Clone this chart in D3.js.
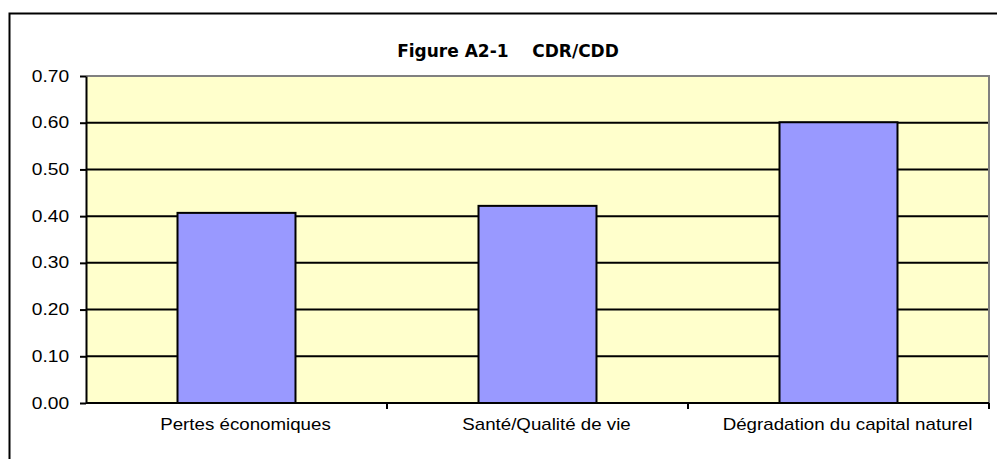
<!DOCTYPE html>
<html>
<head>
<meta charset="utf-8">
<script src="https://cdn.jsdelivr.net/npm/d3@7"></script>
<style>
  body { margin: 0; background: #fff; }
  svg { display: block; }
</style>
</head>
<body>
<div id="chart"></div>
<script>
// chart data
const categories = ["Pertes économiques", "Santé/Qualité de vie", "Dégradation du capital naturel"];
const values = [0.407, 0.422, 0.601];
const yTicks = [0, 0.1, 0.2, 0.3, 0.4, 0.5, 0.6, 0.7];
const title = "Figure A2-1    CDR/CDD";

const fullWidth = 997;
const fullHeight = 459;
const plotLeft = 86, plotRight = 989, plotTop = 76, plotBottom = 403;
const pad = 0.608;

const svg = d3.select("#chart")
    .append("svg")
    .attr("width", fullWidth)
    .attr("height", fullHeight);

// outer frame (right and bottom run off the page)
svg.append("rect")
    .attr("x", 9.5).attr("y", 13.5)
    .attr("width", 1100).attr("height", 600)
    .attr("fill", "none")
    .attr("stroke", "#000")
    .attr("stroke-width", 2);

const xScale = d3.scaleBand()
    .domain(categories)
    .range([plotLeft, plotRight])
    .paddingInner(pad)
    .paddingOuter(pad / 2);

const yScale = d3.scaleLinear()
    .domain([0, 0.7])
    .range([plotBottom, plotTop]);

// plot background
svg.append("rect")
    .attr("x", plotLeft).attr("y", plotTop)
    .attr("width", plotRight - plotLeft).attr("height", plotBottom - plotTop)
    .attr("fill", "#FFFFCC");

// gridlines
svg.append("g")
    .selectAll("line")
    .data(yTicks.filter(d => d > 0 && d < 0.7))
    .enter()
    .append("line")
    .attr("x1", plotLeft).attr("x2", plotRight)
    .attr("y1", d => yScale(d)).attr("y2", d => yScale(d))
    .attr("stroke", "#000")
    .attr("stroke-width", 2);

// top and right border
svg.append("path")
    .attr("d", `M${plotLeft},${plotTop}H${plotRight}V${plotBottom}`)
    .attr("fill", "none")
    .attr("stroke", "#808080")
    .attr("stroke-width", 2);

// bars
svg.selectAll(".bar")
    .data(values)
    .enter()
    .append("rect")
    .attr("class", "bar")
    .attr("x", (d, i) => xScale(categories[i]))
    .attr("y", d => yScale(d))
    .attr("width", xScale.bandwidth())
    .attr("height", d => yScale(0) - yScale(d))
    .attr("fill", "#9999FF")
    .attr("stroke", "#000")
    .attr("stroke-width", 2);

// y axis
const yAxis = svg.append("g")
    .attr("transform", "translate(" + plotLeft + ",0)")
    .call(d3.axisLeft(yScale)
        .tickValues(yTicks)
        .tickFormat(d3.format(".2f"))
        .tickSize(6)
        .tickSizeOuter(0)
        .tickPadding(8));
yAxis.select(".domain").attr("stroke", "#000").attr("stroke-width", 2);
yAxis.selectAll(".tick line").attr("stroke", "#000").attr("stroke-width", 2);
yAxis.selectAll(".tick text")
    .style("font-family", "'Liberation Sans', Arial, sans-serif")
    .style("font-size", "16px")
    .attr("fill", "#000")
    .attr("transform", "scale(1.2,1)");

// x axis: ticks sit between categories
const xAxis = svg.append("g")
    .attr("transform", "translate(0," + plotBottom + ")");
xAxis.append("line")
    .attr("x1", plotLeft).attr("x2", plotRight)
    .attr("stroke", "#000").attr("stroke-width", 2);
const boundary = d => xScale(d) + xScale.bandwidth() + xScale.step() * pad / 2;
xAxis.selectAll(".xtick")
    .data(categories)
    .enter()
    .append("line")
    .attr("class", "xtick")
    .attr("x1", boundary).attr("x2", boundary)
    .attr("y1", 0).attr("y2", 6)
    .attr("stroke", "#000").attr("stroke-width", 2);
xAxis.selectAll(".xlabel")
    .data(categories)
    .enter()
    .append("text")
    .attr("class", "xlabel")
    .attr("transform", d => "translate(" + (xScale(d) + xScale.bandwidth() / 2 + 9) + ",27) scale(1.17,1)")
    .attr("text-anchor", "middle")
    .style("font-family", "'Liberation Sans', Arial, sans-serif")
    .style("font-size", "16px")
    .attr("fill", "#000")
    .text(d => d);

// title
svg.append("text")
    .attr("x", 508)
    .attr("y", 57)
    .attr("text-anchor", "middle")
    .style("font-family", "'DejaVu Sans', sans-serif")
    .style("font-weight", "bold")
    .style("font-size", "17px")
    .style("white-space", "pre")
    .attr("fill", "#000")
    .text(title);
</script>
</body>
</html>
